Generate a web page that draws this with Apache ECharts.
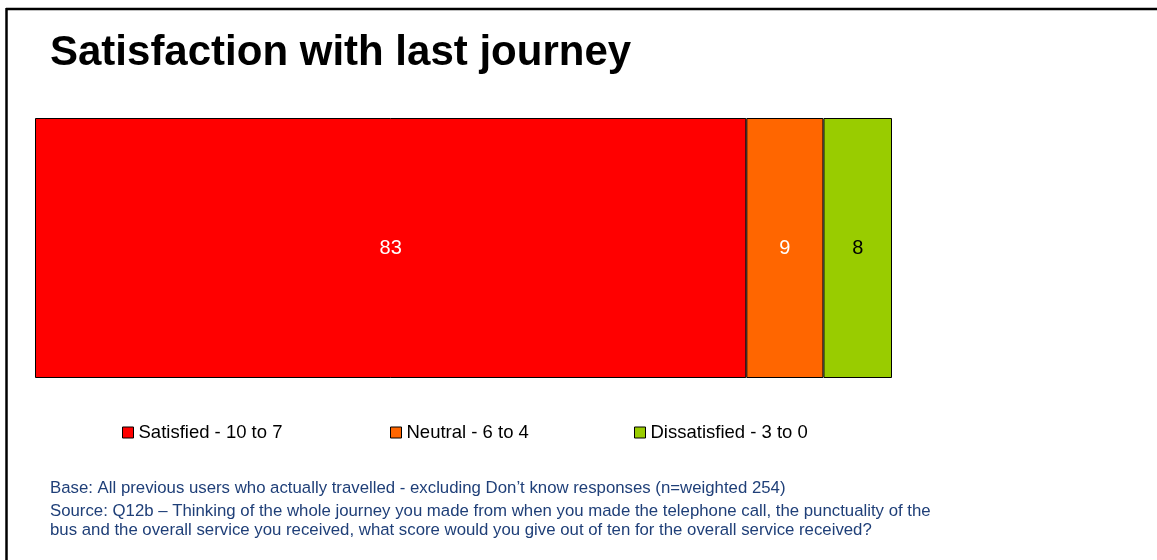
<!DOCTYPE html>
<html>
<head>
<meta charset="utf-8">
<title>Satisfaction with last journey</title>
<script src="https://cdn.jsdelivr.net/npm/echarts@6/dist/echarts.min.js"></script>
<style>
  html, body { margin: 0; padding: 0; background: #fff; }
  #main { width: 1157px; height: 560px; }
</style>
</head>
<body>
<div id="main"></div>
<script>
// data
const seriesNames = ['Satisfied - 10 to 7', 'Neutral - 6 to 4', 'Dissatisfied - 3 to 0'];
const seriesValues = [83, 9, 8];
const seriesColors = ['#ff0000', '#ff6600', '#99cc00'];
const labelColors = ['#ffffff', '#ffffff', '#000000'];
const legendLeft = [117, 385, 629];

const baseNote = 'Base: All previous users who actually travelled - excluding Don\u2019t know responses (n=weighted 254)';
const sourceNote = [
  'Source: Q12b \u2013 Thinking of the whole journey you made from when you made the telephone call, the punctuality of the',
  'bus and the overall service you received, what score would you give out of ten for the overall service received?'
];

const font = '"Liberation Sans", Arial, sans-serif';

const chart = echarts.init(document.getElementById('main'));

const series = seriesNames.map((name, i) => ({
  name: name,
  type: 'bar',
  stack: 'all',
  barWidth: '100%',
  data: [seriesValues[i]],
  itemStyle: { color: seriesColors[i], borderColor: '#000', borderWidth: 1 },
  label: {
    show: true,
    position: 'inside',
    color: labelColors[i],
    fontFamily: font,
    fontSize: 20
  }
}));

const legends = seriesNames.map((name, i) => ({
  data: [name],
  left: legendLeft[i],
  top: 418,
  icon: 'rect',
  itemWidth: 11,
  itemHeight: 11,
  itemGap: 6,
  selectedMode: false,
  itemStyle: { borderColor: '#000', borderWidth: 1 },
  textStyle: { fontFamily: font, fontSize: 18.5, color: '#000' }
}));

chart.setOption({
  animation: false,
  title: {
    text: 'Satisfaction with last journey',
    left: 45,
    top: 27,
    textStyle: { fontFamily: font, fontSize: 42, fontWeight: 'bold', color: '#000' }
  },
  legend: legends,
  grid: { left: 35, top: 118, width: 857, height: 260 },
  xAxis: {
    type: 'value',
    min: 0,
    max: 100,
    show: false
  },
  yAxis: {
    type: 'category',
    data: ['Last journey'],
    show: false
  },
  series: series,
  graphic: [
    { type: 'line', shape: { x1: 6, y1: 9, x2: 1157, y2: 9 }, style: { stroke: '#000', lineWidth: 2.5 } },
    { type: 'line', shape: { x1: 6.5, y1: 8, x2: 6.5, y2: 560 }, style: { stroke: '#000', lineWidth: 2.5 } },
    { type: 'text', left: 50, top: 480, style: { text: baseNote, font: '16.8px ' + font, fill: '#1f3f78' } },
    { type: 'text', left: 50, top: 502, style: { text: sourceNote.join('\n'), font: '16.8px ' + font, lineHeight: 19, fill: '#1f3f78' } }
  ]
});

window.onresize = function () {
  chart.resize();
};
</script>
</body>
</html>
